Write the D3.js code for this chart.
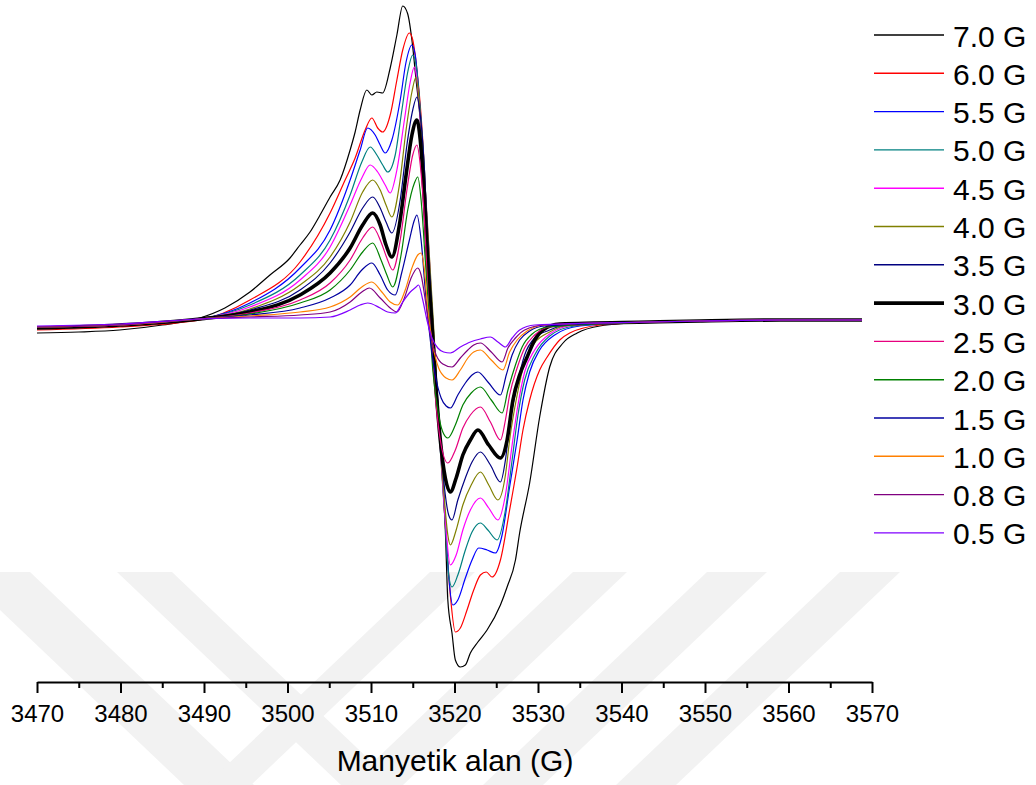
<!DOCTYPE html>
<html>
<head>
<meta charset="utf-8">
<script src="https://cdn.jsdelivr.net/npm/d3@7"></script>
<style>
  html, body { margin: 0; padding: 0; background: #ffffff; }
  svg { display: block; }
  text { font-family: "Liberation Sans", Arial, sans-serif; fill: #000; }
</style>
</head>
<body>
<svg id="chart" width="1036" height="785"></svg>
<script>
// ---------------- DATA ----------------
const fieldTicks = [3470, 3480, 3490, 3500, 3510, 3520, 3530, 3540, 3550, 3560, 3570];
const minorTicks = [3475, 3485, 3495, 3505, 3515, 3525, 3535, 3545, 3555, 3565];
const xTitle = "Manyetik alan (G)";
const seriesLabels = ["7.0 G", "6.0 G", "5.5 G", "5.0 G", "4.5 G", "4.0 G", "3.5 G",
                      "3.0 G", "2.5 G", "2.0 G", "1.5 G", "1.0 G", "0.8 G", "0.5 G"];
const seriesColors = ["#000000", "#ff0000", "#0000ff", "#008080", "#ff00ff", "#808000", "#000080",
                      "#000000", "#e6007e", "#008000", "#0000a0", "#ff8000", "#800080", "#8000ff"];

// [field (G), intensity (a.u.)]
const s70 = [[3470.0,-1.3],[3475.0,-1.2],[3479.9,-1.0],[3485.0,-0.5],[3489.5,0.2],[3492.5,1.2],[3495.5,2.8],[3497.9,4.5],[3500.3,6.2],[3501.5,7.5],[3502.7,8.8],[3503.9,10.5],[3505.1,12.3],[3506.3,14.0],[3507.5,17.0],[3508.1,18.8],[3508.7,21.0],[3509.5,23.0],[3510.1,22.5],[3510.7,22.8],[3511.4,22.7],[3512.3,25.2],[3513.1,28.5],[3513.8,31.4],[3514.4,30.6],[3514.9,28.0],[3515.4,24.0],[3515.9,20.0],[3516.4,14.0],[3516.8,7.0],[3517.3,1.0],[3517.8,-6.0],[3518.3,-12.0],[3518.9,-21.0],[3519.2,-28.0],[3519.7,-31.3],[3520.1,-34.0],[3520.7,-34.7],[3521.3,-34.5],[3521.9,-33.3],[3522.8,-32.2],[3523.9,-31.0],[3525.5,-28.5],[3526.3,-26.7],[3527.3,-24.0],[3527.8,-21.3],[3529.0,-16.3],[3530.2,-9.7],[3531.4,-4.7],[3533.0,-2.3],[3534.7,-1.3],[3537.4,-0.6],[3543.4,-0.2],[3549.4,-0.1],[3559.0,0.0],[3568.8,0.0]];
const s60 = [[3470.0,-1.0],[3479.9,-0.7],[3489.5,0.0],[3495.5,2.0],[3501.5,5.8],[3505.1,10.7],[3506.9,14.0],[3508.1,16.2],[3509.3,19.0],[3510.1,20.2],[3510.8,19.2],[3511.4,18.8],[3512.3,20.5],[3513.1,24.0],[3513.8,27.0],[3514.6,28.7],[3515.0,28.0],[3515.5,25.0],[3515.9,21.5],[3516.4,15.0],[3516.8,7.5],[3517.3,1.0],[3517.8,-6.0],[3518.3,-12.5],[3518.9,-20.5],[3519.5,-27.5],[3520.1,-31.2],[3520.7,-30.8],[3521.5,-29.0],[3522.3,-27.0],[3523.1,-25.5],[3523.8,-25.2],[3524.5,-25.7],[3525.5,-24.0],[3526.6,-19.0],[3527.5,-14.7],[3528.2,-11.0],[3529.0,-8.0],[3530.2,-5.0],[3531.1,-3.7],[3532.6,-2.0],[3533.8,-1.3],[3537.4,-0.5],[3543.4,-0.2],[3549.4,-0.1],[3559.0,0.0],[3568.8,0.0]];
const s55 = [[3470.0,-0.7],[3479.9,-0.5],[3489.5,0.1],[3495.5,1.7],[3501.5,5.2],[3505.1,9.0],[3507.5,14.0],[3508.7,17.0],[3509.6,19.2],[3510.5,18.5],[3511.1,17.5],[3511.7,16.7],[3512.5,18.0],[3513.5,22.0],[3514.2,25.8],[3514.9,27.5],[3515.3,26.5],[3515.7,23.0],[3516.2,17.0],[3516.7,10.0],[3517.2,3.0],[3517.7,-4.0],[3518.3,-12.0],[3518.9,-20.0],[3519.3,-25.5],[3519.8,-28.5],[3520.4,-28.0],[3521.3,-25.8],[3522.1,-24.0],[3522.9,-22.8],[3523.9,-23.0],[3524.9,-23.3],[3525.7,-21.5],[3526.6,-16.7],[3527.5,-12.0],[3528.2,-8.0],[3529.0,-5.2],[3530.2,-3.0],[3532.0,-1.5],[3535.0,-0.6],[3543.4,-0.2],[3549.4,-0.1],[3559.0,0.0],[3568.8,0.0]];
const s50 = [[3470.0,-0.7],[3479.9,-0.5],[3489.5,0.1],[3495.5,1.5],[3501.5,4.5],[3505.1,8.0],[3507.5,12.5],[3508.9,15.8],[3509.9,17.3],[3510.7,16.5],[3511.4,15.5],[3512.0,14.8],[3512.9,16.5],[3513.7,21.0],[3514.4,24.8],[3515.0,26.5],[3515.4,25.5],[3515.9,21.0],[3516.4,15.0],[3516.8,8.0],[3517.3,1.0],[3517.8,-6.0],[3518.3,-13.0],[3518.9,-20.5],[3519.3,-25.5],[3519.7,-26.7],[3520.4,-25.5],[3521.3,-23.0],[3522.1,-21.2],[3523.1,-20.3],[3524.0,-21.0],[3525.1,-22.0],[3526.1,-19.0],[3526.9,-14.0],[3527.6,-9.5],[3528.4,-6.0],[3529.6,-3.5],[3531.4,-1.6],[3534.4,-0.6],[3543.4,-0.2],[3549.4,-0.1],[3559.0,0.0],[3568.8,0.0]];
const s45 = [[3470.0,-0.7],[3479.9,-0.5],[3489.5,0.1],[3495.5,1.3],[3501.5,4.0],[3505.1,7.3],[3507.5,11.5],[3508.9,14.2],[3509.9,15.5],[3510.8,14.8],[3511.7,13.5],[3512.3,12.7],[3513.1,15.0],[3514.0,20.0],[3514.7,23.8],[3515.2,25.3],[3515.5,24.0],[3516.0,19.0],[3516.5,13.0],[3517.0,6.0],[3517.4,-1.0],[3517.9,-8.0],[3518.4,-14.0],[3518.9,-20.0],[3519.5,-24.5],[3520.2,-23.5],[3521.0,-21.0],[3521.9,-19.0],[3523.1,-17.8],[3524.1,-18.8],[3525.2,-20.0],[3526.1,-17.5],[3526.9,-12.5],[3527.6,-8.5],[3528.4,-5.2],[3529.6,-3.0],[3531.4,-1.4],[3534.4,-0.5],[3543.4,-0.2],[3549.4,-0.1],[3559.0,0.0],[3568.8,0.0]];
const s40 = [[3470.0,-0.7],[3479.9,-0.5],[3489.5,0.1],[3495.5,1.1],[3501.5,3.5],[3505.1,6.3],[3507.5,9.8],[3509.0,12.8],[3510.2,14.0],[3511.1,13.0],[3511.8,11.5],[3512.5,10.3],[3513.4,13.5],[3514.2,19.0],[3514.9,22.8],[3515.4,24.3],[3515.7,22.5],[3516.2,17.0],[3516.7,10.5],[3517.2,3.5],[3517.7,-3.5],[3518.1,-10.0],[3518.7,-17.0],[3519.2,-21.5],[3519.5,-22.5],[3520.2,-21.0],[3521.0,-18.5],[3522.0,-16.5],[3523.1,-15.2],[3524.1,-16.5],[3525.2,-18.0],[3526.1,-15.5],[3526.6,-12.0],[3527.5,-7.5],[3528.4,-4.2],[3529.6,-2.3],[3531.4,-1.2],[3533.8,-0.5],[3543.4,-0.2],[3549.4,-0.1],[3559.0,0.0],[3568.8,0.0]];
const s35 = [[3470.0,-0.7],[3479.9,-0.5],[3489.5,0.1],[3495.5,1.0],[3501.5,3.0],[3505.1,5.7],[3507.5,8.8],[3509.0,11.2],[3510.2,12.3],[3511.1,11.2],[3511.8,9.8],[3512.5,8.7],[3513.5,12.0],[3514.3,17.5],[3515.0,21.0],[3515.5,22.3],[3515.9,20.5],[3516.4,15.0],[3516.8,8.0],[3517.3,1.0],[3517.8,-6.0],[3518.3,-12.0],[3518.9,-17.5],[3519.3,-19.5],[3519.7,-20.0],[3520.4,-18.0],[3521.3,-15.8],[3522.1,-14.2],[3523.1,-13.2],[3524.3,-14.5],[3525.5,-16.2],[3526.1,-14.0],[3526.6,-10.5],[3527.5,-6.5],[3528.4,-3.5],[3529.6,-1.8],[3531.4,-1.0],[3533.8,-0.4],[3543.4,-0.2],[3549.4,-0.1],[3559.0,0.0],[3568.8,0.0]];
const s30 = [[3470.0,-0.8],[3479.9,-0.5],[3489.5,0.1],[3495.5,0.8],[3501.5,2.5],[3505.1,4.7],[3507.5,7.2],[3509.0,9.5],[3510.2,10.7],[3511.1,9.5],[3511.8,7.5],[3512.5,6.3],[3513.4,9.5],[3514.2,14.5],[3514.9,18.5],[3515.5,20.0],[3515.9,18.0],[3516.4,12.0],[3516.8,5.5],[3517.3,-0.5],[3517.8,-7.0],[3518.3,-12.0],[3518.9,-15.8],[3519.5,-17.2],[3520.2,-15.8],[3521.0,-13.5],[3521.9,-12.0],[3522.8,-11.0],[3524.1,-12.5],[3525.5,-13.8],[3526.3,-12.0],[3527.0,-8.0],[3527.8,-5.5],[3528.7,-3.7],[3529.6,-2.0],[3530.6,-1.0],[3532.6,-0.4],[3543.4,-0.2],[3549.4,-0.1],[3559.0,0.0],[3568.8,0.0]];
const s25 = [[3470.0,-0.7],[3479.9,-0.5],[3489.5,0.1],[3495.5,0.7],[3501.5,2.0],[3505.1,3.7],[3507.5,6.0],[3509.0,8.2],[3510.2,9.3],[3511.2,7.8],[3511.9,6.2],[3512.6,5.0],[3513.5,8.0],[3514.3,13.0],[3515.0,16.5],[3515.5,17.5],[3515.9,15.5],[3516.4,10.0],[3516.8,3.0],[3517.3,-3.0],[3517.8,-8.5],[3518.4,-12.5],[3519.2,-14.3],[3520.1,-13.0],[3521.0,-10.8],[3521.9,-9.5],[3523.1,-8.7],[3524.3,-10.2],[3525.5,-12.0],[3526.1,-10.0],[3526.6,-7.5],[3527.5,-4.8],[3528.4,-2.8],[3529.6,-1.5],[3531.4,-0.7],[3543.4,-0.2],[3549.4,-0.1],[3559.0,0.0],[3568.8,0.0]];
const s20 = [[3470.0,-0.7],[3479.9,-0.5],[3489.5,0.1],[3495.5,0.6],[3501.5,1.7],[3505.1,3.0],[3507.5,5.0],[3509.0,6.8],[3510.2,7.7],[3511.2,6.0],[3511.9,4.5],[3512.6,3.3],[3513.6,6.5],[3514.4,11.0],[3515.2,13.7],[3515.6,14.3],[3516.0,12.0],[3516.5,6.0],[3517.0,0.0],[3517.4,-5.0],[3518.0,-9.0],[3518.6,-11.2],[3519.2,-11.8],[3520.1,-10.5],[3521.0,-8.5],[3522.0,-7.3],[3523.1,-6.7],[3524.4,-8.0],[3525.7,-9.3],[3526.4,-7.0],[3527.3,-4.5],[3528.1,-2.7],[3529.3,-1.4],[3531.2,-0.7],[3543.4,-0.2],[3549.4,-0.1],[3559.0,0.0],[3568.8,0.0]];
const s15 = [[3470.0,-0.7],[3479.9,-0.5],[3489.5,0.1],[3495.5,0.5],[3501.5,1.2],[3505.1,2.2],[3507.5,3.5],[3508.9,5.0],[3510.1,5.7],[3511.1,4.5],[3512.0,3.0],[3512.9,2.5],[3513.7,4.8],[3514.6,8.0],[3515.2,10.0],[3515.5,10.5],[3516.0,8.0],[3516.5,3.0],[3517.1,-2.0],[3517.7,-5.5],[3518.4,-7.8],[3519.0,-8.6],[3519.5,-8.8],[3520.4,-7.5],[3521.3,-6.3],[3522.1,-5.5],[3522.8,-5.2],[3524.0,-6.2],[3525.5,-7.5],[3526.2,-5.5],[3526.9,-3.5],[3527.8,-2.0],[3529.0,-1.1],[3530.8,-0.6],[3543.4,-0.2],[3549.4,-0.1],[3559.0,0.0],[3568.8,0.0]];
const s10 = [[3470.0,-0.7],[3479.9,-0.5],[3489.5,0.1],[3495.5,0.4],[3501.5,0.8],[3505.1,1.3],[3507.5,2.3],[3508.9,3.3],[3510.1,3.8],[3511.3,2.8],[3512.3,1.8],[3513.2,1.5],[3514.1,3.0],[3514.9,5.2],[3515.6,6.5],[3516.0,6.7],[3516.4,5.0],[3516.8,1.0],[3517.4,-2.5],[3518.1,-4.8],[3519.0,-5.8],[3519.7,-6.0],[3520.7,-5.0],[3521.6,-3.8],[3522.3,-3.2],[3523.1,-3.0],[3524.4,-4.0],[3525.8,-5.0],[3526.6,-3.2],[3527.5,-2.0],[3528.7,-1.1],[3530.8,-0.5],[3543.4,-0.2],[3549.4,-0.1],[3559.0,0.0],[3568.8,0.0]];
const s08 = [[3470.0,-0.7],[3479.9,-0.5],[3489.5,0.1],[3495.5,0.3],[3501.5,0.5],[3505.1,0.8],[3507.5,1.8],[3508.9,2.8],[3509.8,3.2],[3511.1,2.2],[3512.3,1.2],[3513.1,0.8],[3514.0,2.2],[3514.8,4.2],[3515.6,5.2],[3516.0,4.5],[3516.5,2.0],[3517.1,-1.5],[3517.8,-3.5],[3518.6,-4.4],[3519.7,-4.7],[3520.7,-3.8],[3521.6,-3.0],[3522.3,-2.5],[3523.1,-2.3],[3524.4,-3.2],[3525.7,-4.2],[3526.4,-2.8],[3527.3,-1.8],[3528.4,-1.0],[3530.8,-0.5],[3543.4,-0.2],[3549.4,-0.1],[3559.0,0.0],[3568.8,0.0]];
const s05 = [[3470.0,-0.6],[3479.9,-0.4],[3489.5,0.1],[3495.5,0.2],[3501.5,0.2],[3505.1,0.3],[3507.5,1.0],[3508.7,1.5],[3509.6,1.7],[3511.1,1.2],[3512.0,0.8],[3512.9,0.7],[3513.8,1.8],[3514.7,2.8],[3515.4,3.3],[3515.7,3.5],[3516.2,2.0],[3516.7,0.0],[3517.3,-1.8],[3518.0,-2.8],[3518.7,-3.2],[3519.5,-3.3],[3520.7,-2.7],[3521.9,-2.2],[3523.1,-1.9],[3524.3,-1.7],[3525.2,-2.2],[3526.1,-2.7],[3526.9,-1.8],[3527.8,-1.0],[3529.6,-0.5],[3543.4,-0.2],[3549.4,-0.1],[3559.0,0.0],[3568.8,0.0]];

const seriesData = [s70, s60, s55, s50, s45, s40, s35, s30, s25, s20, s15, s10, s08, s05];

// ---------------- LAYOUT ----------------
const svg = d3.select("#chart");
const axisY = 682;
const x = d3.scaleLinear().domain([3470, 3570]).range([37, 872]);
const y = d3.scaleLinear().domain([-36.2, 32]).range([axisY, 0]);

// faint background watermark (decorative)
const wm = svg.append("g").attr("fill", "#f2f2f2");
const bands = [
  [[-40,572],[30,572],[254,785],[184,785]],
  [[117,572],[172,572],[396,785],[341,785]],
  [[430,572],[475,572],[251,785],[206,785]],
  [[573,572],[627,572],[403,785],[349,785]],
  [[707,572],[767,572],[543,785],[483,785]],
  [[840,572],[900,572],[676,785],[616,785]]
];
bands.forEach(b => wm.append("polygon").attr("points", b.map(p => p.join(",")).join(" ")));

// series lines
const line = d3.line()
  .x(d => x(d[0]))
  .y(d => y(d[1]))
  .curve(d3.curveMonotoneX);

const lines = svg.append("g").attr("fill", "none");
seriesData.forEach((data, i) => {
  lines.append("path")
    .datum(data)
    .attr("d", line)
    .attr("stroke", seriesColors[i])
    .attr("stroke-width", seriesLabels[i] === "3.0 G" ? 3.6 : 1.2)
    .attr("stroke-linejoin", "round");
});

// x axis
const axisG = svg.append("g").attr("transform", `translate(0,${axisY})`);
axisG.call(d3.axisBottom(x).tickValues(fieldTicks).tickSize(11).tickSizeOuter(0).tickFormat(d3.format("d")));
axisG.select(".domain").attr("stroke", "#000").attr("stroke-width", 2);
axisG.selectAll(".tick line").attr("stroke", "#000").attr("stroke-width", 2);
axisG.selectAll(".tick text")
  .attr("font-size", 24)
  .attr("font-family", "'Liberation Sans', Arial, sans-serif")
  .attr("fill", "#000")
  .attr("dy", null)
  .attr("y", 40);

const minorG = svg.append("g").attr("transform", `translate(0,${axisY})`);
minorG.call(d3.axisBottom(x).tickValues(minorTicks).tickSize(6).tickSizeOuter(0).tickFormat(""));
minorG.select(".domain").remove();
minorG.selectAll(".tick line").attr("stroke", "#000").attr("stroke-width", 2);

// axis title
svg.append("text")
  .attr("x", 455)
  .attr("y", 771)
  .attr("text-anchor", "middle")
  .attr("font-size", 30)
  .text(xTitle);

// legend
const legend = svg.append("g");
seriesLabels.forEach((lab, i) => {
  const cy = 35 + i * 38.3;
  legend.append("line")
    .attr("x1", 874).attr("x2", 944)
    .attr("y1", cy).attr("y2", cy)
    .attr("stroke", seriesColors[i])
    .attr("stroke-width", lab === "3.0 G" ? 3.6 : 1.4);
  legend.append("text")
    .attr("x", 953)
    .attr("y", cy + 11.5)
    .attr("font-size", 30)
    .text(lab);
});
</script>
</body>
</html>
